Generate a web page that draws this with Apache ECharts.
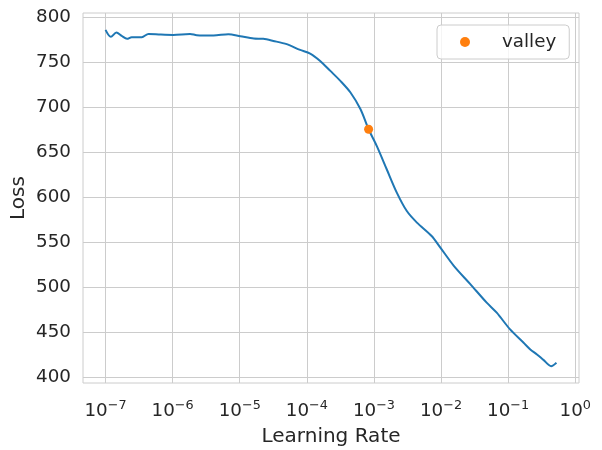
<!DOCTYPE html>
<html>
<head>
<meta charset="utf-8">
<script src="https://cdn.jsdelivr.net/npm/echarts@6/dist/echarts.min.js"></script>
<style>
  html, body { margin: 0; padding: 0; background: #fff; }
  #chart { width: 602px; height: 450px; }
</style>
</head>
<body>
<div id="chart"></div>
<script>
// learning rate finder curve
let lrValues = [
  1.00e-7, 1.20e-7, 1.45e-7, 1.74e-7, 2.09e-7, 2.45e-7, 3.47e-7, 4.37e-7,
  6.61e-7, 1.02e-6, 1.82e-6, 2.29e-6, 4.07e-6, 6.76e-6, 1.02e-5, 1.62e-5,
  2.24e-5, 3.16e-5, 5.01e-5, 7.94e-5, 1.12e-4, 1.58e-4, 2.24e-4, 3.16e-4,
  4.47e-4, 6.31e-4, 8.32e-4, 1.10e-3, 1.55e-3, 2.19e-3, 3.09e-3, 4.37e-3,
  7.24e-3, 9.77e-3, 1.55e-2, 2.75e-2, 4.79e-2, 6.76e-2, 0.107, 0.170,
  0.214, 0.269, 0.339, 0.437, 0.525
];
let lossValues = [
  785.6, 777.8, 782.7, 778.9, 775.6, 777.4, 777.4, 781.1,
  780.4, 780.0, 781.1, 779.7, 779.3, 780.8, 778.6, 776.0,
  775.6, 773.3, 769.7, 763.3, 759.3, 751.1, 740.0, 728.9,
  716.0, 697.4, 675.2, 656.7, 630.8, 604.9, 584.4, 571.6,
  556.7, 543.8, 523.6, 503.0, 482.7, 471.6, 453.0, 438.2,
  430.8, 425.2, 418.9, 412.2, 416.0
];
let valleyLr = 8.32e-4;
let valleyLoss = 675.2;

let xTickExponents = [-7, -6, -5, -4, -3, -2, -1, 0];
let yTicks = [400, 450, 500, 550, 600, 650, 700, 750, 800];

let textColor = '#262626';
let gridColor = '#cccccc';
let font = 'DejaVu Sans';

let curve = lrValues.map((lr, i) => [Math.log10(lr), lossValues[i]]);

let myChart = echarts.init(document.getElementById('chart'));
let option = {
  animation: false,
  textStyle: { fontFamily: font, color: textColor },
  grid: {
    left: 83, right: 23, top: 13, bottom: 67,
    outerBoundsMode: 'none',
    show: true,
    borderColor: gridColor,
    borderWidth: 1
  },
  legend: {
    data: ['valley'],
    left: 437,
    top: 25,
    padding: [7, 13, 7, 23],
    icon: 'circle',
    itemWidth: 10,
    itemHeight: 10,
    backgroundColor: 'rgba(255,255,255,0.8)',
    borderColor: gridColor,
    borderWidth: 1,
    borderRadius: 4,
    itemStyle: { opacity: 1 },
    textStyle: {
      fontFamily: font, fontSize: 18.3, color: textColor,
      lineHeight: 20, padding: [0, 0, 0, 27]
    }
  },
  xAxis: {
    type: 'value',
    min: -7.336,
    max: 0.056,
    name: 'Learning Rate',
    nameLocation: 'middle',
    nameGap: 44,
    nameMoveOverlap: false,
    nameTextStyle: { fontFamily: font, fontSize: 20, color: textColor },
    axisLine: { show: false },
    axisTick: { show: false, customValues: xTickExponents },
    splitLine: { show: true, lineStyle: { color: gridColor, width: 1 } },
    axisLabel: {
      customValues: xTickExponents,
      margin: 16,
      formatter: v => '{b|10}{s|' + (v < 0 ? '\u2212' + (-v) : v) + '}',
      rich: {
        b: { fontFamily: font, fontSize: 18.3, color: textColor, lineHeight: 24 },
        s: { fontFamily: font, fontSize: 12.8, color: textColor, lineHeight: 12, verticalAlign: 'top' }
      }
    }
  },
  yAxis: {
    type: 'value',
    min: 393.5,
    max: 804.3,
    name: 'Loss',
    nameLocation: 'middle',
    nameGap: 54,
    nameMoveOverlap: false,
    nameTextStyle: { fontFamily: font, fontSize: 20, color: textColor },
    axisLine: { show: false },
    axisTick: { show: false, customValues: yTicks },
    splitLine: { show: true, lineStyle: { color: gridColor, width: 1 } },
    axisLabel: {
      customValues: yTicks,
      margin: 12,
      fontFamily: font, fontSize: 18.3, color: textColor
    }
  },
  series: [
    {
      name: 'loss',
      type: 'line',
      data: curve,
      showSymbol: false,
      smooth: 0.3,
      lineStyle: { color: '#1f77b4', width: 2 },
      itemStyle: { color: '#1f77b4' },
      z: 2
    },
    {
      name: 'valley',
      type: 'scatter',
      data: [[Math.log10(valleyLr), valleyLoss]],
      symbol: 'circle',
      symbolSize: 9,
      itemStyle: { color: '#ff7f0e', opacity: 1 },
      z: 3
    }
  ]
};
myChart.setOption(option);
</script>
</body>
</html>
